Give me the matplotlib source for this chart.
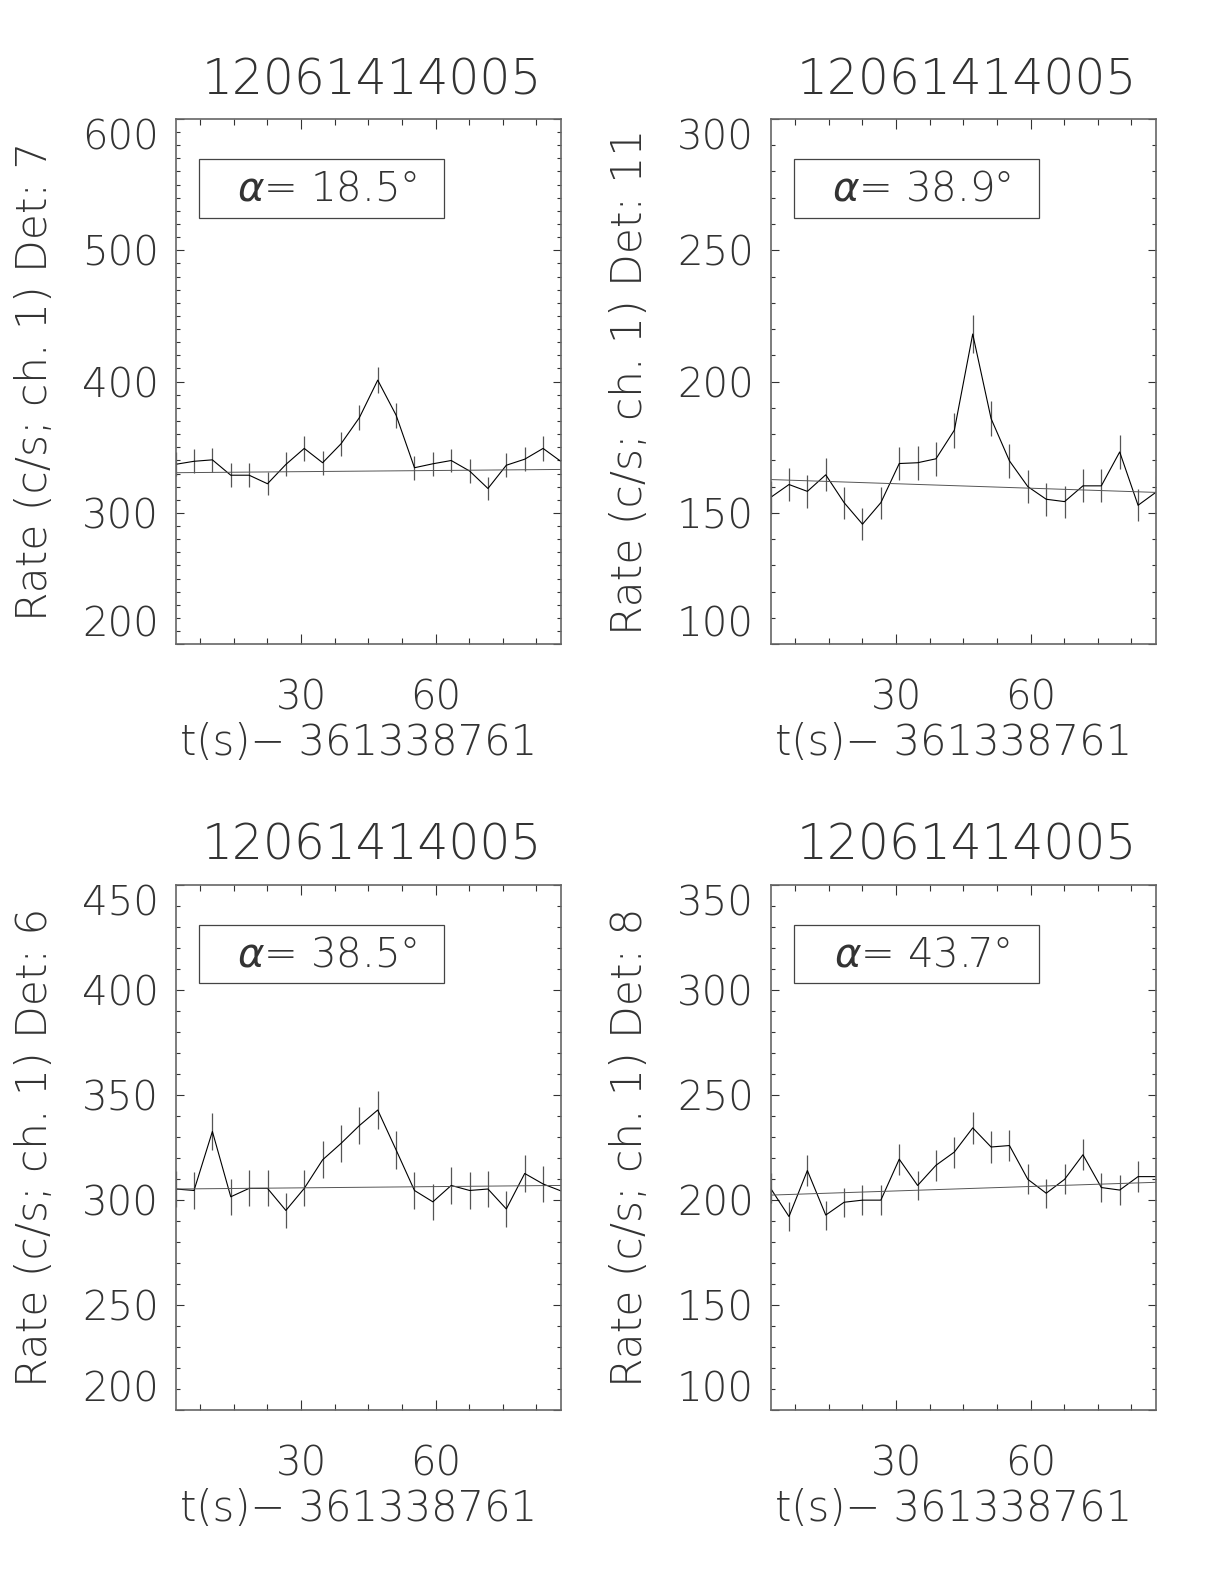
import numpy as np
import matplotlib
matplotlib.use("Agg")
import matplotlib.pyplot as plt
from matplotlib.patches import Rectangle
from matplotlib.ticker import FixedLocator, MultipleLocator

plt.rcParams['font.family'] = ['DejaVu Sans']
plt.rcParams['font.weight'] = 'light'
plt.rcParams['mathtext.fontset'] = 'custom'
plt.rcParams['mathtext.it'] = 'DejaVu Sans:italic:light'
plt.rcParams['mathtext.rm'] = 'DejaVu Sans:light'

# bin centres, s after 361338761
t = [2.048, 6.144, 10.240, 14.336, 18.432, 22.528, 26.624, 30.720, 34.816, 38.912, 43.008,
     47.104, 51.200, 55.296, 59.392, 63.488, 67.584, 71.680, 75.776, 79.872, 83.968, 88.064]

title = "12061414005"
xlabel = "t(s)\u2212 361338761"

# det 7
rate_d7 = [337.0, 339.3, 340.4, 328.7, 328.7, 322.2, 336.9, 349.1, 338.2, 352.6, 372.5,
           401.1, 374.4, 334.4, 337.4, 339.9, 331.9, 318.6, 336.3, 340.9, 349.1, 338.9]
err_d7 = [9.1, 9.1, 9.1, 9.0, 9.0, 8.9, 9.1, 9.2, 9.1, 9.3, 9.5,
          9.9, 9.6, 9.0, 9.1, 9.1, 9.0, 8.8, 9.1, 9.1, 9.2, 9.1]
bkg_d7 = [330.6, 333.1]

# det 11
rate_d11 = [155.9, 160.8, 158.2, 164.5, 153.9, 145.7, 153.9, 168.8, 169.1, 170.6, 181.5,
            218.1, 185.9, 169.8, 160.0, 155.2, 154.3, 160.3, 160.3, 173.2, 152.9, 158.0]
err_d11 = [6.2, 6.3, 6.2, 6.3, 6.1, 6.0, 6.1, 6.4, 6.4, 6.5, 6.7,
           7.3, 6.7, 6.4, 6.3, 6.2, 6.1, 6.3, 6.3, 6.5, 6.1, 6.2]
bkg_d11 = [162.7, 157.8]

# det 6
rate_d6 = [305.1, 304.4, 332.5, 301.4, 305.4, 305.4, 294.9, 305.4, 319.0, 326.8, 335.3,
           342.7, 323.7, 304.4, 299.0, 306.8, 304.4, 305.1, 295.6, 312.5, 307.5, 304.1]
err_d6 = [8.6, 8.6, 9.0, 8.6, 8.6, 8.6, 8.5, 8.6, 8.8, 8.9, 9.0,
          9.1, 8.9, 8.6, 8.5, 8.7, 8.6, 8.6, 8.5, 8.7, 8.7, 8.6]
bkg_d6 = [305.1, 306.8]

# det 8
rate_d8 = [205.4, 192.0, 213.9, 192.7, 198.8, 199.8, 199.8, 219.3, 206.8, 216.4, 222.7,
           234.2, 225.1, 225.8, 209.7, 203.1, 209.7, 221.4, 205.8, 204.6, 211.0, 211.0]
err_d8 = [7.1, 6.8, 7.2, 6.9, 7.0, 7.0, 7.0, 7.3, 7.1, 7.3, 7.4,
          7.6, 7.4, 7.4, 7.2, 7.0, 7.2, 7.4, 7.1, 7.1, 7.2, 7.2]
bkg_d8 = [202.2, 208.3]

dets = [7, 11, 6, 8]
alphas = [18.5, 38.9, 38.5, 43.7]
rates = [rate_d7, rate_d11, rate_d6, rate_d8]
errs = [err_d7, err_d11, err_d6, err_d8]
bkgs = [bkg_d7, bkg_d11, bkg_d6, bkg_d8]
ylims = [(200, 600), (100, 300), (200, 450), (100, 350)]
ysteps = [100, 50, 50, 50]

# axes rectangles (figure fractions)
rects = [[0.1435, 0.5933, 0.3152, 0.3316],
         [0.6296, 0.5933, 0.3152, 0.3316],
         [0.1435, 0.1100, 0.3152, 0.3315],
         [0.6296, 0.1100, 0.3152, 0.3315]]

ink = '#333333'
fs = 29

fig = plt.figure(figsize=(12.24, 15.84), dpi=100)

for i in range(4):
    ax = fig.add_axes(rects[i])
    tt = np.array(t)
    r = np.array(rates[i])
    e = np.array(errs[i])

    ax.vlines(tt, r - e, r + e, color='#555555', lw=0.9)
    ax.plot(tt, r, color='black', lw=0.8)
    ax.plot([t[0], t[-1]], bkgs[i], color='#555555', lw=0.7)

    ax.set_xlim(t[0], t[-1])
    ax.set_ylim(*ylims[i])

    ax.xaxis.set_major_locator(FixedLocator([0, 30, 60, 90]))
    ax.xaxis.set_minor_locator(MultipleLocator(7.5))
    lo, hi = ylims[i]
    ax.yaxis.set_major_locator(FixedLocator(list(range(lo, hi + 1, ysteps[i]))))
    ax.yaxis.set_minor_locator(MultipleLocator(10))

    ax.tick_params(which='both', direction='in', top=True, right=True,
                   colors=ink, width=0.8, labelsize=fs)
    ax.tick_params(axis='x', which='major', length=7, pad=25)
    ax.tick_params(axis='x', which='minor', length=4.5)
    ax.tick_params(axis='y', which='major', length=6, pad=12)
    ax.tick_params(axis='y', which='minor', length=3)

    for sp in ax.spines.values():
        sp.set_color('#666666')
        sp.set_linewidth(1.2)

    ylabs = ax.get_yticklabels()
    ylabs[0].set_verticalalignment('bottom')
    ylabs[-1].set_verticalalignment('top')

    ax.text(0.509, 1.074, title, transform=ax.transAxes, ha='center', va='center',
            fontsize=35, color=ink)
    ax.text(0.475, -0.188, xlabel, transform=ax.transAxes, ha='center', va='center',
            fontsize=30, color=ink)
    ax.text(-0.365, 0.5, "Rate (c/s; ch. 1) Det: %d" % dets[i], transform=ax.transAxes,
            rotation=90, ha='center', va='center', fontsize=30.5, color=ink)

    ax.add_patch(Rectangle((0.06, 0.812), 0.635, 0.111, transform=ax.transAxes,
                           fill=False, edgecolor='#444444', lw=0.9))
    ax.text(0.392, 0.866, "$\\alpha$= %.1f\u00b0" % alphas[i], transform=ax.transAxes,
            ha='center', va='center', fontsize=fs, color=ink)

fig.savefig("out.png", dpi=100)
